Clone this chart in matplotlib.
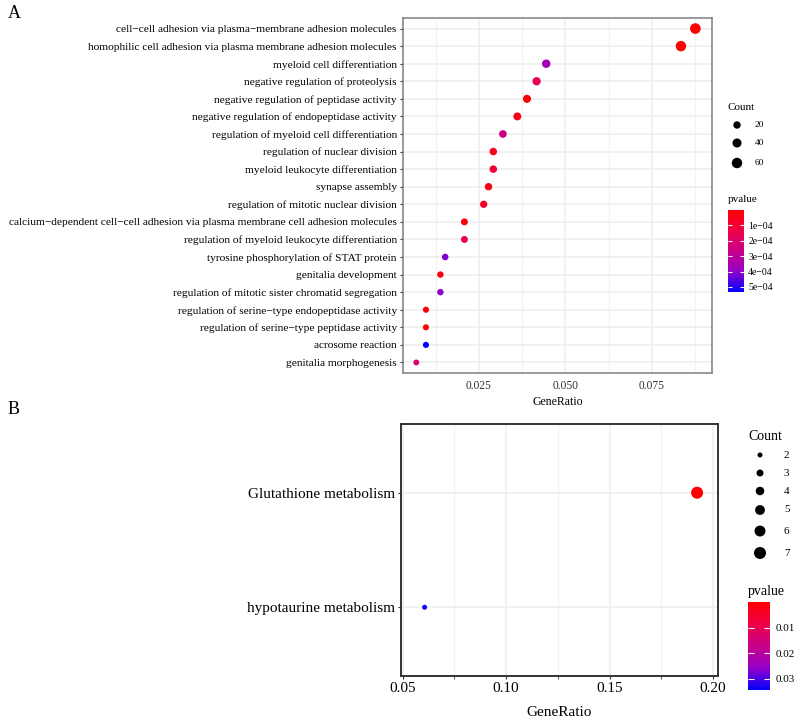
import numpy as np
import matplotlib.pyplot as plt
from matplotlib.colors import LinearSegmentedColormap, Normalize
from matplotlib.cm import ScalarMappable

plt.rcParams['font.family'] = ['Liberation Serif', 'DejaVu Serif']

# panel A: GO terms
go_terms = ['cell\u2212cell adhesion via plasma\u2212membrane adhesion molecules',
            'homophilic cell adhesion via plasma membrane adhesion molecules',
            'myeloid cell differentiation',
            'negative regulation of proteolysis',
            'negative regulation of peptidase activity',
            'negative regulation of endopeptidase activity',
            'regulation of myeloid cell differentiation',
            'regulation of nuclear division',
            'myeloid leukocyte differentiation',
            'synapse assembly',
            'regulation of mitotic nuclear division',
            'calcium\u2212dependent cell\u2212cell adhesion via plasma membrane cell adhesion molecules',
            'regulation of myeloid leukocyte differentiation',
            'tyrosine phosphorylation of STAT protein',
            'genitalia development',
            'regulation of mitotic sister chromatid segregation',
            'regulation of serine\u2212type endopeptidase activity',
            'regulation of serine\u2212type peptidase activity',
            'acrosome reaction',
            'genitalia morphogenesis']
go_count = [63, 60, 32, 30, 28, 26, 23, 21, 21, 20, 19, 15, 15, 11, 10, 10, 7, 7, 7, 5]
go_ratio = [c / 720 for c in go_count]
go_pvalue = [1e-6, 2e-6, 3.6e-4, 1.6e-4, 2e-5, 4e-5, 2.6e-4, 6e-5, 1.1e-4, 3e-5,
             8e-5, 2e-5, 1.2e-4, 4.2e-4, 3e-5, 4.0e-4, 1e-5, 1e-5, 5.3e-4, 2e-4]

# panel B: KEGG pathways
kegg_terms = ['Glutathione metabolism', 'hypotaurine metabolism']
kegg_ratio = [0.1923, 0.0606]
kegg_count = [7, 2]
kegg_pvalue = [0.0003, 0.0335]

cmap = LinearSegmentedColormap.from_list(
    'rb', [(0, '#FF0000'), (0.25, '#EE0048'), (0.5, '#C8008A'), (0.75, '#9400C8'), (1, '#0000FF')])

W, H = 800, 718
fig = plt.figure(figsize=(8, 7.18), dpi=100)


def fbox(x0, y0, x1, y1):
    return [x0 / W, 1 - y1 / H, (x1 - x0) / W, (y1 - y0) / H]


def size_a(c):
    return 0.5184 * (28 + 1.35 * np.asarray(c))


def size_b(c):
    return 0.5184 * (25 + 23.8 * (np.asarray(c) - 2))


# ---------- panel A ----------
ax = fig.add_axes(fbox(403, 18, 712, 373))
normA = Normalize(0, 5.33e-4)
y = np.arange(len(go_terms))
ax.scatter(go_ratio, y, s=size_a(go_count), c=go_pvalue, cmap=cmap, norm=normA,
           zorder=3, linewidths=0)
ax.set_ylim(len(go_terms) - 1 + 0.6, -0.6)
ax.set_xlim(0.0031, 0.0923)
ax.set_yticks(y)
ax.set_yticklabels(go_terms, fontsize=8.2)
ax.set_xticks([0.025, 0.05, 0.075])
ax.set_xticklabels(['0.025', '0.050', '0.075'], fontsize=8.3, color='#333333')
ax.set_xticks([0.0125, 0.0375, 0.0625, 0.0875], minor=True)
ax.grid(True, which='major', color='#EDEDED', lw=1.1)
ax.grid(True, which='minor', axis='x', color='#F2F2F2', lw=0.8)
ax.set_axisbelow(True)
ax.tick_params(axis='y', length=2.5, width=0.8, color='#333333', pad=2)
ax.tick_params(axis='x', which='both', length=0, pad=5)
for sp in ax.spines.values():
    sp.set_color('#7F7F7F')
    sp.set_linewidth(1.1)
ax.set_xlabel('GeneRatio', fontsize=8.5, labelpad=3)

# legend A: Count
fig.text(728 / W, 1 - 107 / H, 'Count', fontsize=8, va='center')
leg_counts_a = [20, 40, 60]
lax = fig.add_axes(fbox(728, 115, 770, 173))
lax.set_xlim(0, 42)
lax.set_ylim(58, 0)
lax.axis('off')
ly = [10, 28, 48]
lax.scatter([9] * 3, ly, s=size_a(leg_counts_a), c='black', linewidths=0)
for v, yy in zip(leg_counts_a, ly):
    lax.text(27, yy, str(v), fontsize=6.8, va='center')

fig.text(728 / W, 1 - 199 / H, 'pvalue', fontsize=8, va='center')
cax = fig.add_axes(fbox(728, 210, 744, 292))
cb = fig.colorbar(ScalarMappable(norm=normA, cmap=cmap), cax=cax)
cb.set_ticks([1e-4, 2e-4, 3e-4, 4e-4, 5e-4])
cb.set_ticklabels(['1e\u221204', '2e\u221204', '3e\u221204', '4e\u221204', '5e\u221204'])
cb.ax.tick_params(labelsize=7, length=3, color='white', direction='in', pad=3, left=True)
cb.outline.set_visible(False)
cb.ax.invert_yaxis()

# ---------- panel B ----------
bx = fig.add_axes(fbox(401, 424, 718, 676))
normB = Normalize(0, 0.0345)
yb = np.arange(len(kegg_terms))
bx.scatter(kegg_ratio, yb, s=size_b(kegg_count), c=kegg_pvalue, cmap=cmap, norm=normB,
           zorder=3, linewidths=0)
bx.set_ylim(len(kegg_terms) - 1 + 0.6, -0.6)
bx.set_xlim(0.0492, 0.2024)
bx.set_yticks(yb)
bx.set_yticklabels(kegg_terms, fontsize=11)
bx.set_xticks([0.05, 0.10, 0.15, 0.20])
bx.set_xticklabels(['0.05', '0.10', '0.15', '0.20'], fontsize=11)
bx.set_xticks([0.075, 0.125, 0.175], minor=True)
bx.grid(True, which='major', color='#EDEDED', lw=1.1)
bx.grid(True, which='minor', axis='x', color='#F2F2F2', lw=0.8)
bx.set_axisbelow(True)
bx.tick_params(axis='y', length=2.5, width=0.8, color='#333333', pad=2)
bx.tick_params(axis='x', which='both', length=2, color='#333333', pad=2)
for sp in bx.spines.values():
    sp.set_color('#333333')
    sp.set_linewidth(1.4)
bx.set_xlabel('GeneRatio', fontsize=11, labelpad=8)

fig.text(748 / W, 1 - 436 / H, 'Count', fontsize=10, va='center')
leg_counts_b = [2, 3, 4, 5, 6, 7]
lbx = fig.add_axes(fbox(745, 445, 800, 563))
lbx.set_xlim(745, 800)
lbx.set_ylim(563, 445)
lbx.axis('off')
lby = [455, 473, 491, 510, 531, 553]
lbx.scatter([760] * 6, lby, s=size_b(leg_counts_b), c='black', linewidths=0)
for v, yy in zip(leg_counts_b, lby):
    lbx.text(784, yy, str(v), fontsize=8, va='center')

fig.text(748 / W, 1 - 592 / H, 'pvalue', fontsize=10, va='center')
cbx = fig.add_axes(fbox(748, 602, 770, 690))
cb2 = fig.colorbar(ScalarMappable(norm=normB, cmap=cmap), cax=cbx)
cb2.set_ticks([0.01, 0.02, 0.03])
cb2.set_ticklabels(['0.01', '0.02', '0.03'])
cb2.ax.tick_params(labelsize=8, length=4, color='white', direction='in', pad=4, left=True)
cb2.outline.set_visible(False)
cb2.ax.invert_yaxis()

fig.text(8 / W, 1 - 14 / H, 'A', fontsize=13, va='center')
fig.text(8 / W, 1 - 410 / H, 'B', fontsize=13, va='center')

fig.savefig('out.png', dpi=100)
